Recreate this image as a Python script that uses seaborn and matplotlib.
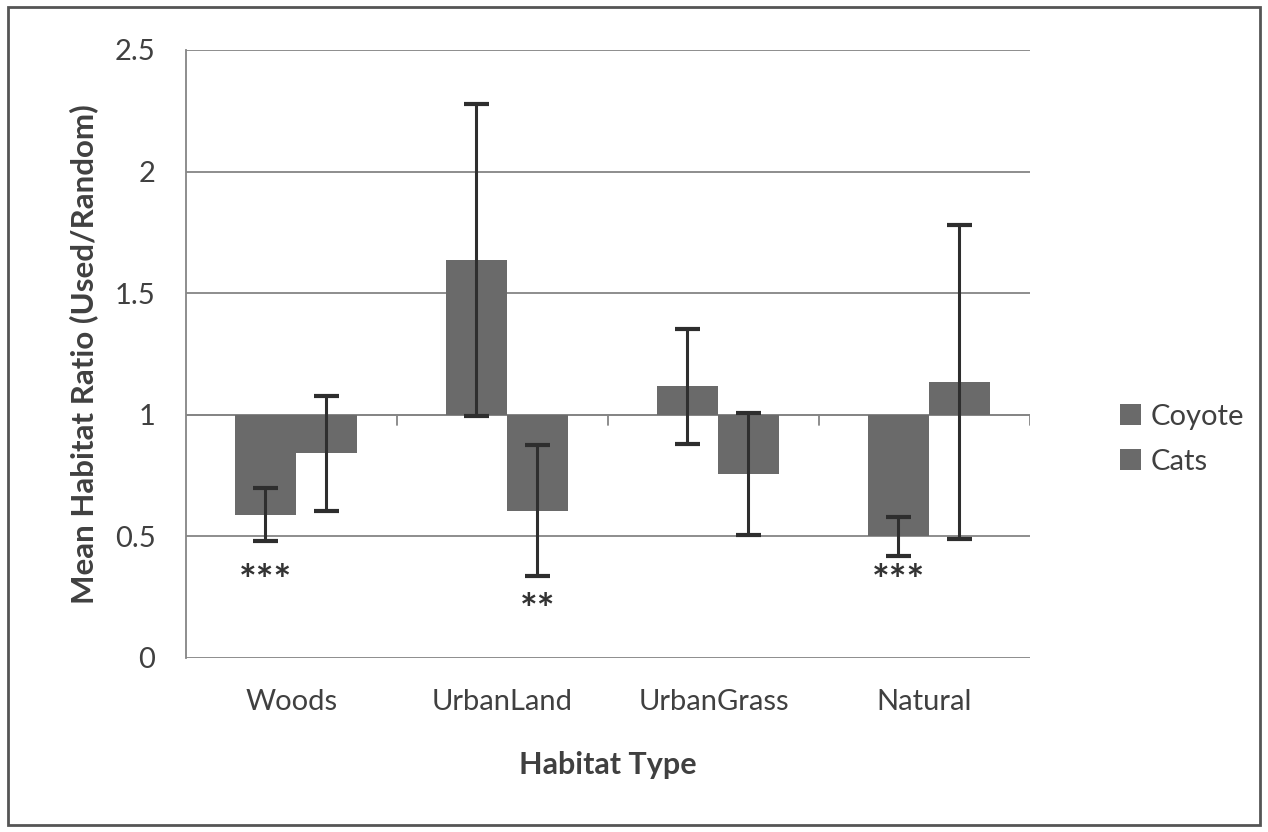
import numpy as np
import pandas as pd
import matplotlib
matplotlib.use('Agg')
import matplotlib.pyplot as plt
import seaborn as sns
from matplotlib.patches import Rectangle

# data (bars hang from the axis crossing at 1)
habitats = ['Woods', 'UrbanLand', 'UrbanGrass', 'Natural']
species = ['Coyote', 'Cats']
coyote_mean = [0.59, 1.637, 1.117, 0.50]
cats_mean = [0.841, 0.606, 0.757, 1.135]
coyote_err = [0.107, 0.64, 0.236, 0.08]
cats_err = [0.235, 0.27, 0.25, 0.646]

# significance stars under some bars
star_habitat = ['Woods', 'UrbanLand', 'Natural']
star_species = ['Coyote', 'Cats', 'Coyote']
star_text = ['***', '**', '***']
star_y = [0.31, 0.19, 0.31]

baseline = 1.0

df = pd.DataFrame({
    'habitat': habitats * 2,
    'species': ['Coyote'] * 4 + ['Cats'] * 4,
    'ratio': coyote_mean + cats_mean,
    'err': coyote_err + cats_err,
})

sns.set_style('white')
plt.rcParams['font.family'] = ['Lato', 'DejaVu Sans']

fig = plt.figure(figsize=(12.68, 8.32), dpi=100)
ax = fig.add_axes([186 / 1268, 1 - 658 / 832, (1030 - 186) / 1268, (658 - 50) / 832])

bar_col = '#6a6a6a'
sns.barplot(data=df, x='habitat', y='ratio', hue='species', order=habitats,
            hue_order=species, palette=[bar_col, bar_col], width=0.58,
            errorbar=None, ax=ax, zorder=3, linewidth=0)

# move bars so they start at the axis crossing (1) like the Excel original
centers = {}
for sp, cont in zip(species, ax.containers):
    sub = df[df['species'] == sp].set_index('habitat').loc[habitats]
    for hab, p, val, e in zip(habitats, cont.patches, sub['ratio'], sub['err']):
        p.set_x(p.get_x() + 0.02)
        p.set_y(baseline)
        p.set_height(val - baseline)
        cx = p.get_x() + p.get_width() / 2
        centers[(hab, sp)] = cx
        ax.errorbar(cx, val, yerr=e, fmt='none', ecolor='#2e2e2e',
                    elinewidth=2.2, capsize=9, capthick=3, zorder=4)

for hab, sp, txt, yy in zip(star_habitat, star_species, star_text, star_y):
    ax.text(centers[(hab, sp)], yy, txt, ha='center', va='center',
            fontsize=30, fontweight='bold', color='#333333', zorder=5)

ax.set_ylim(0, 2.5)
ax.set_xlim(-0.5, 3.5)
ax.set_yticks([0, 0.5, 1, 1.5, 2, 2.5])
ax.set_yticklabels(['0', '0.5', '1', '1.5', '2', '2.5'])
ax.yaxis.grid(True, color='#858585', linewidth=1.3, zorder=0)
ax.set_axisbelow(True)

for s in ['top', 'right', 'bottom']:
    ax.spines[s].set_visible(False)
ax.spines['left'].set_color('#858585')
ax.spines['left'].set_linewidth(1.3)
ax.tick_params(axis='y', direction='out', length=12, width=1.3, color='#858585',
               labelsize=21, labelcolor='#404040', pad=10)
ax.tick_params(axis='x', length=0, labelsize=21, labelcolor='#404040', pad=22)

# horizontal axis line at 1 with small category separators
ax.axhline(baseline, color='#858585', linewidth=1.3, zorder=2)
for xs in [0.5, 1.5, 2.5, 3.5]:
    ax.plot([xs, xs], [baseline, baseline - 0.04], color='#858585', lw=1.3, zorder=2)

ax.set_xlabel('Habitat Type', fontsize=22, fontweight='bold', color='#404040', labelpad=26)
ax.set_ylabel('Mean Habitat Ratio (Used/Random)', fontsize=22.5, fontweight='bold',
              color='#404040', labelpad=12)

ax.legend(handles=ax.get_legend_handles_labels()[0], labels=species,
          loc='center left', bbox_to_anchor=(1.075, 0.36), frameon=False,
          fontsize=21, handlelength=0.75, handleheight=0.75, handletextpad=0.3,
          labelspacing=0.65, labelcolor='#404040')

# outer chart border
fig.patches.append(Rectangle((0.006, 0.008), 0.988, 0.984, transform=fig.transFigure,
                             fill=False, edgecolor='#555555', linewidth=2))

fig.savefig('out.png', dpi=100)
